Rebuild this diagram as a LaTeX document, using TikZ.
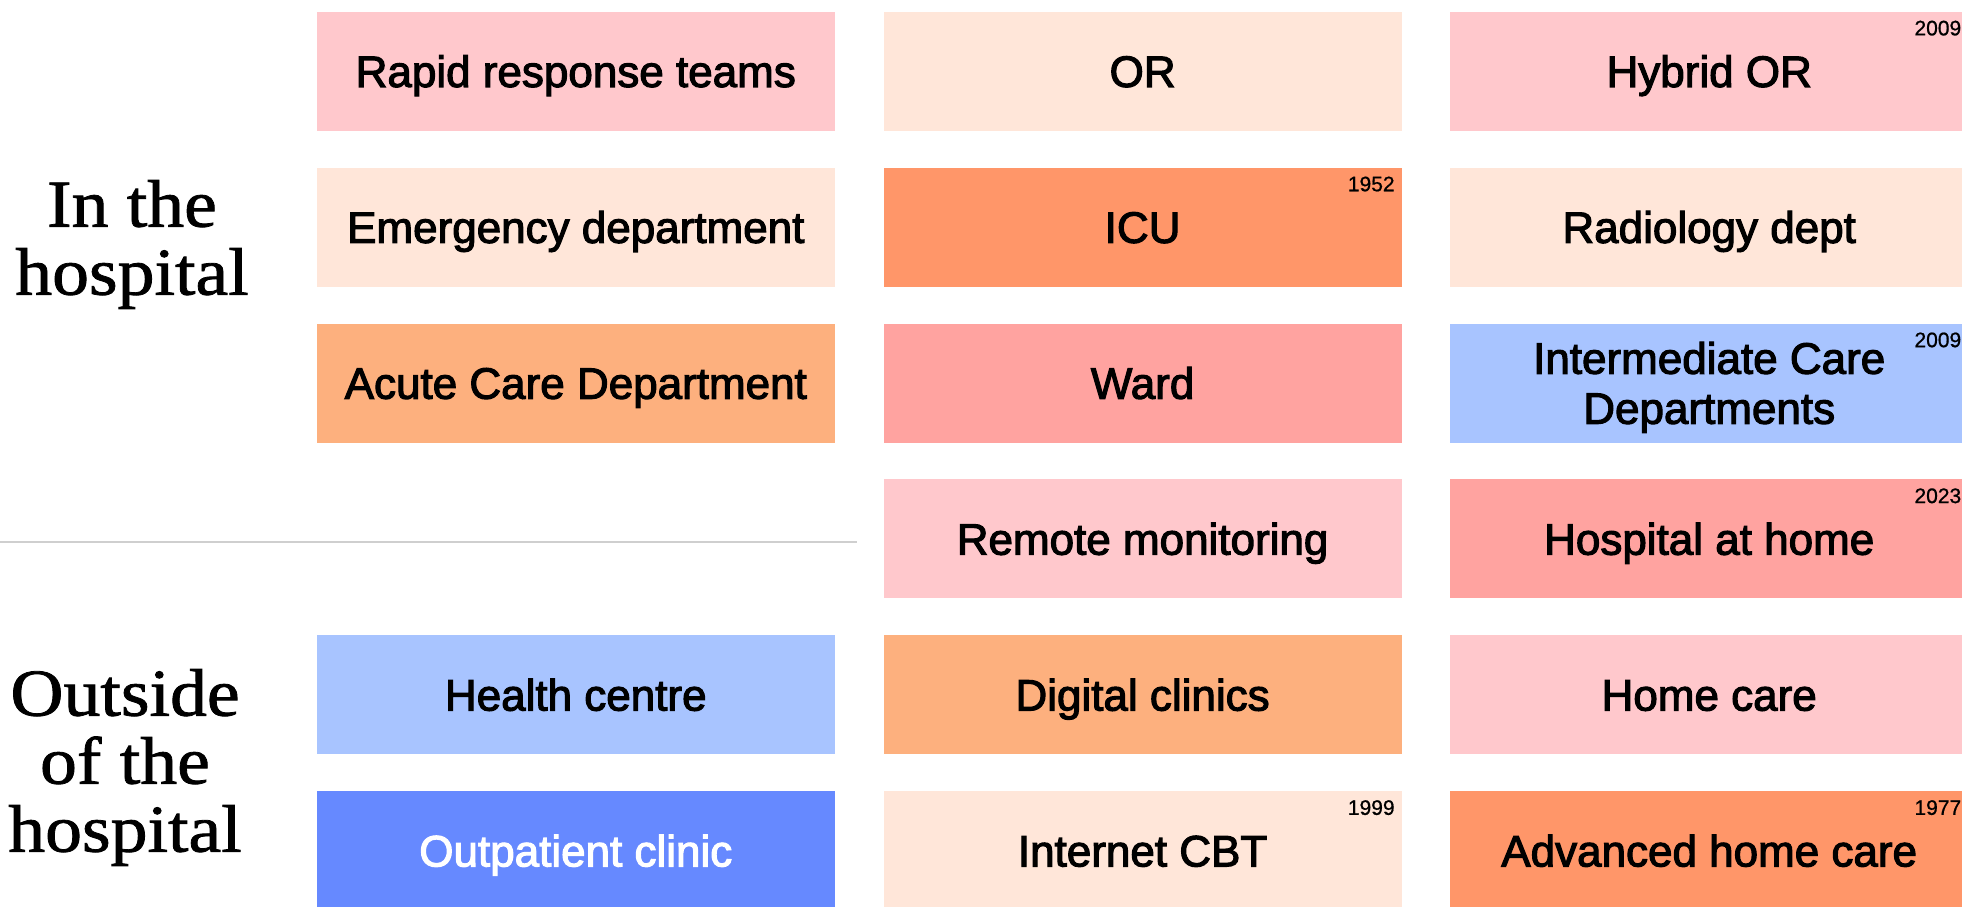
\documentclass[tikz,border=0pt]{standalone}
\usepackage{fontspec}
\newfontfamily\labfont[FakeBold=2.5]{Liberation Sans}
\newfontfamily\yearfont[FakeBold=0.8]{Liberation Sans}
\newfontfamily\sidefont[FakeStretch=1.1,FakeBold=1.2]{Liberation Serif}
\definecolor{cpink}{HTML}{FFC8CC}
\definecolor{cpeach}{HTML}{FFE6D9}
\definecolor{corange}{HTML}{FF9669}
\definecolor{clorange}{HTML}{FDB07E}
\definecolor{csalmon}{HTML}{FFA3A0}
\definecolor{clblue}{HTML}{A8C4FF}
\definecolor{cblue}{HTML}{6689FF}
\definecolor{cline}{HTML}{CFCFCF}
\begin{document}
\begin{tikzpicture}[x=1pt,y=-1pt,
  box/.style={draw=none, inner sep=0pt, minimum width=518pt, minimum height=119pt,
    anchor=north west, align=center, text=black,
    text height=31.5pt, text depth=0pt,
    font=\labfont\fontsize{44}{50}\selectfont},
  twoline/.style={text height=81.5pt, text depth=0pt},
  year/.style={anchor=north east, inner sep=0pt, text=black,
    font=\yearfont\fontsize{21}{21}\selectfont},
  side/.style={anchor=center, align=center, inner sep=0pt, text=black,
    font=\sidefont\fontsize{67}{68}\selectfont},
  sepline/.style={draw=cline, line width=2pt}]
\clip (0,0) rectangle (1962,907);
\fill[white] (0,0) rectangle (1962,907);

% column 1
\node[box, fill=cpink]    (rrt)  at (316.6,11.5)  {Rapid response teams};
\node[box, fill=cpeach]   (ed)   at (316.6,167.4) {Emergency department};
\node[box, fill=clorange] (acd)  at (316.6,323.3) {Acute Care Department};
\node[box, fill=clblue]   (hc)   at (316.6,635.1) {Health centre};
\node[box, fill=cblue, text=white] (oc) at (316.6,791) {Outpatient clinic};

% column 2
\node[box, fill=cpeach]   (or)   at (883.4,11.5)  {OR};
\node[box, fill=corange]  (icu)  at (883.4,167.4) {ICU};
\node[box, fill=csalmon]  (ward) at (883.4,323.3) {Ward};
\node[box, fill=cpink]    (rm)   at (883.4,479.2) {Remote monitoring};
\node[box, fill=clorange] (dc)   at (883.4,635.1) {Digital clinics};
\node[box, fill=cpeach]   (cbt)  at (883.4,791)   {Internet CBT};

% column 3
\node[box, fill=cpink]    (hor)  at (1450,11.5)  {Hybrid OR};
\node[box, fill=cpeach]   (rad)  at (1450,167.4) {Radiology dept};
\node[box, twoline, fill=clblue] (icd) at (1450,323.3) {Intermediate Care\\Departments};
\node[box, fill=csalmon]  (hah)  at (1450,479.2) {Hospital at home};
\node[box, fill=cpink]    (home) at (1450,635.1) {Home care};
\node[box, fill=corange]  (ahc)  at (1450,791)   {Advanced home care};

% years
\node[year] (yhor) at ([xshift=-7pt,yshift=-9pt]hor.north east) {2009};
\node[year] (yicu) at ([xshift=-7pt,yshift=-9pt]icu.north east) {1952};
\node[year] (yicd) at ([xshift=-7pt,yshift=-9pt]icd.north east) {2009};
\node[year] (yhah) at ([xshift=-7pt,yshift=-9pt]hah.north east) {2023};
\node[year] (ycbt) at ([xshift=-7pt,yshift=-9pt]cbt.north east) {1999};
\node[year] (yahc) at ([xshift=-7pt,yshift=-9pt]ahc.north east) {1977};

% side labels
\node[side] (inside)  at (132,244.5) {In the\\hospital};
\node[side] (outside) at (125,767.5) {Outside\\of the\\hospital};

% separator
\coordinate (sepL) at (0,542);
\coordinate (sepR) at (857,542);
\draw[sepline] (sepL) -- (sepR);
\end{tikzpicture}
\end{document}
